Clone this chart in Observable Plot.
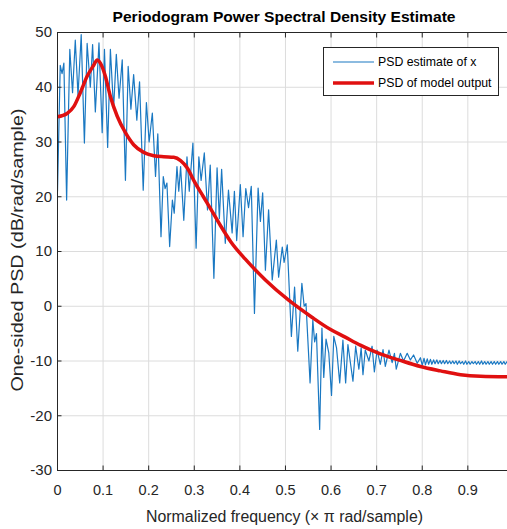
<!DOCTYPE html>
<html><head><meta charset="utf-8">
<script src="https://cdn.jsdelivr.net/npm/d3@7"></script>
<script src="https://cdn.jsdelivr.net/npm/@observablehq/plot@0.6"></script>
<style>body{margin:0;background:#fff} #chart{position:relative;width:507px;height:529px;overflow:hidden}</style>
</head><body><div id="chart"></div>
<script>
// Blue periodogram estimate (peaks and troughs)
const psdFreq = [
  0, 0.006, 0.010, 0.014, 0.020, 0.027, 0.033, 0.039, 0.045, 0.052, 0.059, 0.065, 0.072, 0.077, 0.083, 0.091, 0.098, 0.103, 0.110, 0.116,
  0.123, 0.129, 0.135, 0.142, 0.149, 0.155, 0.161, 0.167, 0.174, 0.180, 0.188, 0.195, 0.201, 0.208, 0.215, 0.220, 0.227,
  0.232, 0.236, 0.240, 0.246, 0.252, 0.256, 0.262, 0.266, 0.270, 0.277, 0.284, 0.289, 0.297, 0.304, 0.310, 0.315, 0.322, 0.329,
  0.335, 0.343, 0.350, 0.355, 0.360, 0.368, 0.375, 0.383, 0.388, 0.393, 0.401, 0.407, 0.413,
  0.419, 0.425, 0.432, 0.440, 0.445, 0.450, 0.456, 0.463, 0.471, 0.480, 0.485, 0.493, 0.497, 0.504, 0.513, 0.520, 0.527, 0.536,
  0.541, 0.545, 0.554, 0.560, 0.564, 0.568, 0.575, 0.580, 0.584, 0.589, 0.595, 0.601, 0.606, 0.612, 0.619,
  0.626, 0.632, 0.637, 0.648, 0.654, 0.661, 0.666, 0.670, 0.675, 0.683, 0.690, 0.695, 0.701, 0.708, 0.714, 0.719, 0.727, 0.734,
  0.739, 0.743, 0.752, 0.759, 0.767, 0.774, 0.781, 0.789, 0.796,
  0.800, 0.804, 0.807, 0.811, 0.814, 0.818, 0.821, 0.825, 0.828, 0.832, 0.835, 0.839, 0.842, 0.846, 0.849, 0.853, 0.856, 0.860,
  0.863, 0.867, 0.870, 0.874, 0.877, 0.881, 0.884, 0.888, 0.891, 0.895, 0.898, 0.902, 0.905, 0.909, 0.912, 0.916, 0.919, 0.923,
  0.926, 0.930, 0.933, 0.937, 0.940, 0.944, 0.947, 0.951, 0.954, 0.958, 0.961, 0.965, 0.968, 0.972, 0.975, 0.979, 0.982, 0.986, 0.989
];
const psdValue = [
  21, 44, 42.5, 44.4, 19.4, 46.9, 39, 48.6, 38.5, 49.6, 29.8, 48, 40, 47.8, 35.5, 48.1, 31.7, 46.9, 29, 46.9,
  36, 46, 38, 45, 23, 43.8, 36, 42.3, 34, 41, 21.2, 37.2, 30, 35.3, 23.7, 31.5, 12.7,
  23.7, 21.5, 22.5, 10.9, 19.4, 17, 25.5, 21, 25.5, 15.7, 27.3, 21, 29.8, 10.6, 27.3, 23, 28, 17.6,
  25.8, 5.1, 25.3, 16, 25, 11.5, 21.2, 13.4, 21, 12, 22.2, 12.7, 21.5,
  18, 21.9, -1.3, 21.6, 15.5, 20.7, 6.6, 17.6, 4.8, 12.1, 5.3, 10.8, 8, 11.2, -5.5, 3.5, -8.2, 4.2,
  0, 0.5, -14, -2.5, -6.5, -5, -22.5, -4, -13, -6, -8.5, -16.3, -5.5, -7.6, -14,
  -6.2, -14, -7, -13.7, -7.3, -11.5, -7.6, -12.5, -8, -10, -7.3, -12, -8, -10.6, -7.9, -11, -8, -10.3,
  -8.6, -11.5, -8.6, -10, -8.6, -9.8, -8.9, -10.4, -9.4,
  -10.8, -9.5, -10.7, -9.6, -10.6, -9.7, -10.6, -9.8, -10.5, -9.8, -10.5, -9.9, -10.5, -9.9, -10.5, -9.9, -10.5, -10.0,
  -10.5, -10.0, -10.5, -10.0, -10.6, -10.0, -10.5, -10.1, -10.6, -10.0, -10.6, -10.1, -10.6, -10.1, -10.5, -10.1, -10.6, -10.1,
  -10.6, -10.0, -10.6, -10.1, -10.6, -10.1, -10.6, -10.1, -10.6, -10.1, -10.6, -10.1, -10.6, -10.1, -10.6, -10.1, -10.6, -10.1, -10.5
];
// Red model output PSD
const modelFreq = [0, 0.021, 0.036, 0.050, 0.065, 0.080, 0.087, 0.094, 0.105, 0.116, 0.131, 0.149, 0.167, 0.189, 0.211, 0.233, 0.255,
  0.270, 0.285, 0.300, 0.320, 0.336, 0.357, 0.380, 0.412, 0.456, 0.507, 0.558, 0.600, 0.630, 0.664, 0.708, 0.752, 0.796, 0.840, 0.884, 0.928, 0.989];
const modelValue = [34.6, 35.2, 36.5, 39, 42, 44.1, 45, 44.4, 42, 38.3, 34.7, 31.7, 29.5, 28.1, 27.5, 27.3, 27.2,
  26.6, 25.2, 22.8, 20.0, 17.8, 14.8, 11.8, 8.6, 4.8, 1.1, -2, -4.3, -5.6, -7.1, -8.7, -9.9, -11, -11.8, -12.5, -12.8, -12.9];

const xTicks = [0, 0.1, 0.2, 0.3, 0.4, 0.5, 0.6, 0.7, 0.8, 0.9];
const yTicks = [-30, -20, -10, 0, 10, 20, 30, 40, 50];
const titleText = "Periodogram Power Spectral Density Estimate";
const xLabel = "Normalized frequency (\u00d7 \u03c0 rad/sample)";
const yLabel = "One-sided PSD (dB/rad/sample)";
const legendLabels = ["PSD estimate of x", "PSD of model output"];
const seriesColors = ["#1a78c2", "#e01010"];

const psd = psdFreq.map((f, i) => ({f, v: psdValue[i]}));
const model = modelFreq.map((f, i) => ({f, v: modelValue[i]}));

const axisColor = "#262626";
const svg = Plot.plot({
  width: 507, height: 529,
  marginLeft: 57, marginRight: 0, marginTop: 32, marginBottom: 59,
  style: {fontFamily: "'Liberation Sans', Arial, sans-serif", background: "#fff", color: axisColor},
  x: {domain: [0, 0.987]},
  y: {domain: [-30, 50]},
  marks: [
    Plot.gridX(xTicks, {stroke: "#dcdcdc", strokeOpacity: 1}),
    Plot.gridY(yTicks, {stroke: "#dcdcdc", strokeOpacity: 1}),
    Plot.line(psd, {x: "f", y: "v", stroke: seriesColors[0], strokeWidth: 1.2, clip: true}),
    Plot.line(model, {x: "f", y: "v", stroke: seriesColors[1], strokeWidth: 3.5, curve: "monotone-x", clip: true}),
    Plot.frame({anchor: "left", stroke: axisColor}),
    Plot.frame({anchor: "bottom", stroke: axisColor}),
    Plot.frame({anchor: "top", stroke: axisColor}),
    Plot.axisX(xTicks, {anchor: "bottom", tickSize: -4.5, tickPadding: 19, fontSize: 14.5, label: null, tickFormat: d => String(d)}),
    Plot.axisX(xTicks, {anchor: "top", tickSize: -4.5, tickFormat: () => "", label: null}),
    Plot.axisY(yTicks, {anchor: "left", tickSize: -4.5, tickPadding: 10, fontSize: 15, label: null, tickFormat: d => String(d)})
  ]
});
document.getElementById("chart").appendChild(svg);

const s = d3.select(svg);
const font = "'Liberation Sans', Arial, sans-serif";
s.append("text").attr("x", 284).attr("y", 21.5).attr("text-anchor", "middle")
  .attr("font-family", font).attr("font-weight", "bold").attr("font-size", 15.5).attr("fill", "#000")
  .attr("textLength", 343).attr("lengthAdjust", "spacingAndGlyphs").text(titleText);
s.append("text").attr("x", 284.5).attr("y", 522).attr("text-anchor", "middle")
  .attr("font-family", font).attr("font-size", 16).attr("fill", axisColor)
  .attr("textLength", 277).attr("lengthAdjust", "spacingAndGlyphs").text(xLabel);
s.append("text").attr("transform", "translate(23,250) rotate(-90)").attr("text-anchor", "middle")
  .attr("font-family", font).attr("font-size", 16.5).attr("fill", axisColor)
  .attr("textLength", 283).attr("lengthAdjust", "spacingAndGlyphs").text(yLabel);

// legend
const lg = s.append("g");
lg.append("rect").attr("x", 323.5).attr("y", 47.5).attr("width", 175).attr("height", 48)
  .attr("fill", "#fff").attr("stroke", axisColor).attr("stroke-width", 1);
const rowsY = [62, 83];
const widths = [1.2, 3.5];
legendLabels.forEach((lab, i) => {
  lg.append("line").attr("x1", 333).attr("x2", 374).attr("y1", rowsY[i]).attr("y2", rowsY[i])
    .attr("stroke", seriesColors[i]).attr("stroke-width", widths[i]);
  lg.append("text").attr("x", 378).attr("y", rowsY[i] + 4.4).attr("text-anchor", "start").attr("font-family", font)
    .attr("font-size", 12.3).attr("fill", "#000").text(lab);
});
</script></body></html>
